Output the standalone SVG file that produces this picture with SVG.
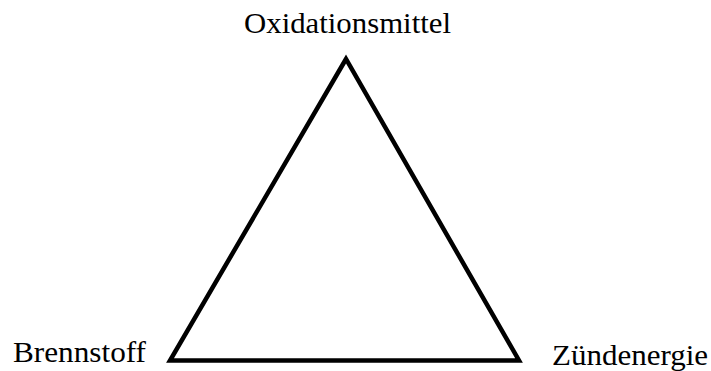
<svg xmlns="http://www.w3.org/2000/svg" width="711" height="371" viewBox="0 0 711 371">
<style>
.lbl{font-family:"Liberation Serif","DejaVu Serif",serif;font-size:29px;fill:#000}
.tri{fill:none;stroke:#000;stroke-width:4.5;stroke-linejoin:miter}
</style>
<rect width="711" height="371" fill="#fff"/>
<g id="connectors">
<polygon class="tri" points="346,59 170,360.5 519,360.5"/>
</g>
<g id="oxidationsmittel"><text class="lbl" x="244" y="33" textLength="207" lengthAdjust="spacingAndGlyphs">Oxidationsmittel</text></g>
<g id="brennstoff"><text class="lbl" x="13" y="362" textLength="133" lengthAdjust="spacingAndGlyphs">Brennstoff</text></g>
<g id="zuendenergie"><text class="lbl" x="552" y="365" textLength="156" lengthAdjust="spacingAndGlyphs">Zündenergie</text></g>
</svg>
